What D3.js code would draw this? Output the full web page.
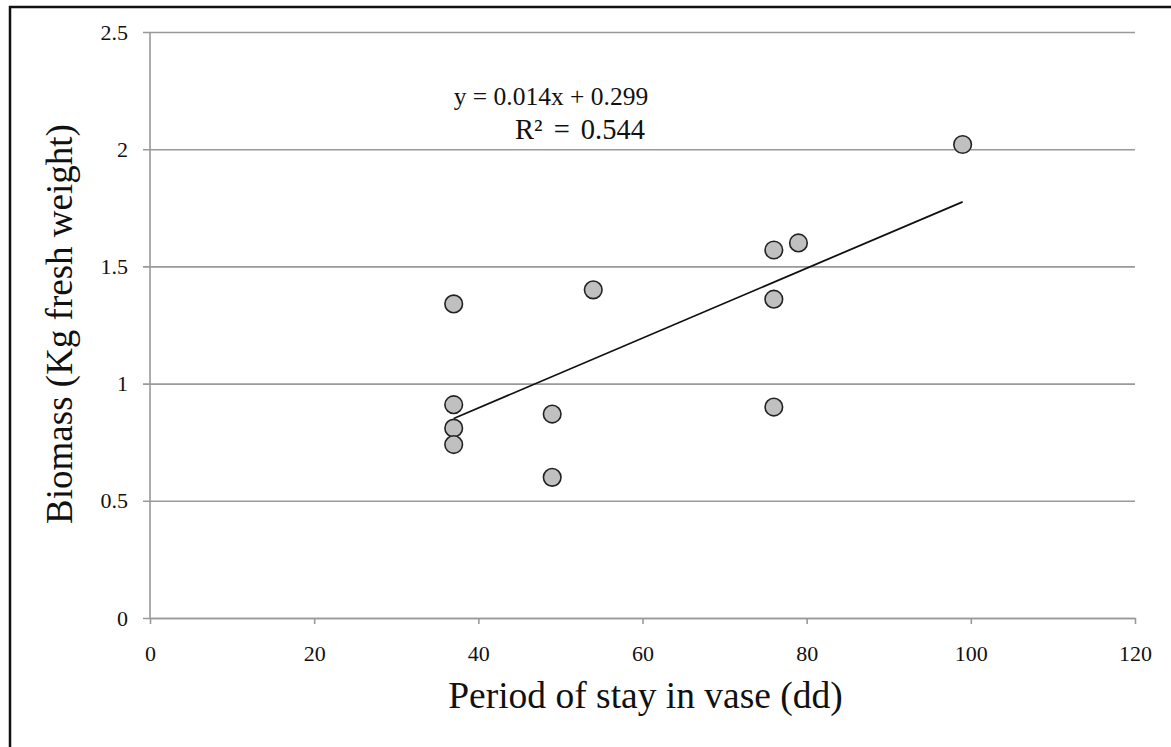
<!DOCTYPE html>
<html>
<head>
<meta charset="utf-8">
<script src="https://cdn.jsdelivr.net/npm/d3@7"></script>
<style>
  body { margin: 0; background: #fff; }
  text { font-family: "Liberation Serif", "Times New Roman", serif; fill: #111; }
</style>
</head>
<body>
<div id="chart"></div>
<script>
// data
var stayDays = [37, 37, 37, 37, 49, 49, 54, 76, 76, 76, 79, 99];
var biomass = [1.34, 0.91, 0.81, 0.74, 0.87, 0.60, 1.40, 1.57, 1.36, 0.90, 1.60, 2.02];
var xTicks = [0, 20, 40, 60, 80, 100, 120];
var yTicks = [0, 0.5, 1, 1.5, 2, 2.5];
var eqText = ["y = 0.014x + 0.299", "R\u00b2 = 0.544"];

var W = 1171, H = 747;
var margin = {top: 32, right: 36, bottom: 129, left: 150},
    width = W - margin.left - margin.right,
    height = H - margin.top - margin.bottom;

var svg = d3.select("#chart")
  .append("svg")
    .attr("width", W)
    .attr("height", H);

// outer frame (only top and left show in the picture)
svg.append("rect")
  .attr("x", 10).attr("y", 7)
  .attr("width", W + 20).attr("height", H + 20)
  .attr("fill", "none")
  .attr("stroke", "#111")
  .attr("stroke-width", 2.5);

var g = svg.append("g")
  .attr("transform", "translate(" + margin.left + "," + margin.top + ")");

var x = d3.scaleLinear().domain([0, 120]).range([0, width]);
var y = d3.scaleLinear().domain([0, 2.5]).range([height, 0]);

// horizontal gridlines + y axis
var yAxis = g.append("g")
  .call(d3.axisLeft(y).tickValues(yTicks).tickSize(-width).tickSizeOuter(0)
        .tickFormat(function(d){ return d3.format("")(d); }));
yAxis.select(".domain").remove();
yAxis.selectAll(".tick line")
  .attr("x1", -7)
  .attr("stroke", "#999")
  .attr("stroke-width", 1.6);
yAxis.selectAll(".tick text")
  .attr("x", -22)
  .style("font-size", "22px")
  .style("font-family", "Liberation Serif, serif");

// vertical axis line
g.append("line")
  .attr("x1", 0).attr("x2", 0)
  .attr("y1", 0).attr("y2", height)
  .attr("stroke", "#999").attr("stroke-width", 1.6);

// x axis
var xAxis = g.append("g")
  .attr("transform", "translate(0," + height + ")")
  .call(d3.axisBottom(x).tickValues(xTicks).tickSize(6).tickSizeOuter(0));
xAxis.select(".domain").attr("stroke", "#999").attr("stroke-width", 1.6);
xAxis.selectAll(".tick line").attr("stroke", "#999").attr("stroke-width", 1.6);
xAxis.selectAll(".tick text")
  .attr("y", 27)
  .style("font-size", "22px")
  .style("font-family", "Liberation Serif, serif");

// least squares trendline from the points
var mx = d3.mean(stayDays), my = d3.mean(biomass);
var sxy = d3.sum(stayDays, function(v, i){ return (v - mx) * (biomass[i] - my); });
var sxx = d3.sum(stayDays, function(v){ return (v - mx) * (v - mx); });
var slope = sxy / sxx, icpt = my - slope * mx;
var xr = d3.extent(stayDays);

g.append("line")
  .attr("x1", x(xr[0])).attr("y1", y(slope * xr[0] + icpt))
  .attr("x2", x(xr[1])).attr("y2", y(slope * xr[1] + icpt))
  .attr("stroke", "#111")
  .attr("stroke-width", 1.8);

// points
g.append("g")
  .selectAll("circle")
  .data(stayDays)
  .enter()
  .append("circle")
    .attr("cx", function(d){ return x(d); })
    .attr("cy", function(d, i){ return y(biomass[i]); })
    .attr("r", 8.8)
    .attr("fill", "#c0c0c0")
    .attr("stroke", "#222")
    .attr("stroke-width", 1.6);

// equation label
g.append("text")
  .attr("x", 401).attr("y", 73)
  .attr("text-anchor", "middle")
  .style("font-size", "25.5px")
  .text(eqText[0]);
g.append("text")
  .attr("x", 430).attr("y", 107)
  .attr("text-anchor", "middle")
  .style("font-size", "28.5px")
  .style("word-spacing", "4px")
  .text(eqText[1]);

// axis titles
svg.append("text")
  .attr("x", margin.left + width / 2 + 3)
  .attr("y", 708)
  .attr("text-anchor", "middle")
  .style("font-size", "37.5px")
  .text("Period of stay in vase (dd)");

svg.append("text")
  .attr("transform", "translate(72," + (margin.top + height / 2 - 1) + ") rotate(-90)")
  .attr("text-anchor", "middle")
  .style("font-size", "37px")
  .text("Biomass (Kg fresh weight)");
</script>
</body>
</html>
